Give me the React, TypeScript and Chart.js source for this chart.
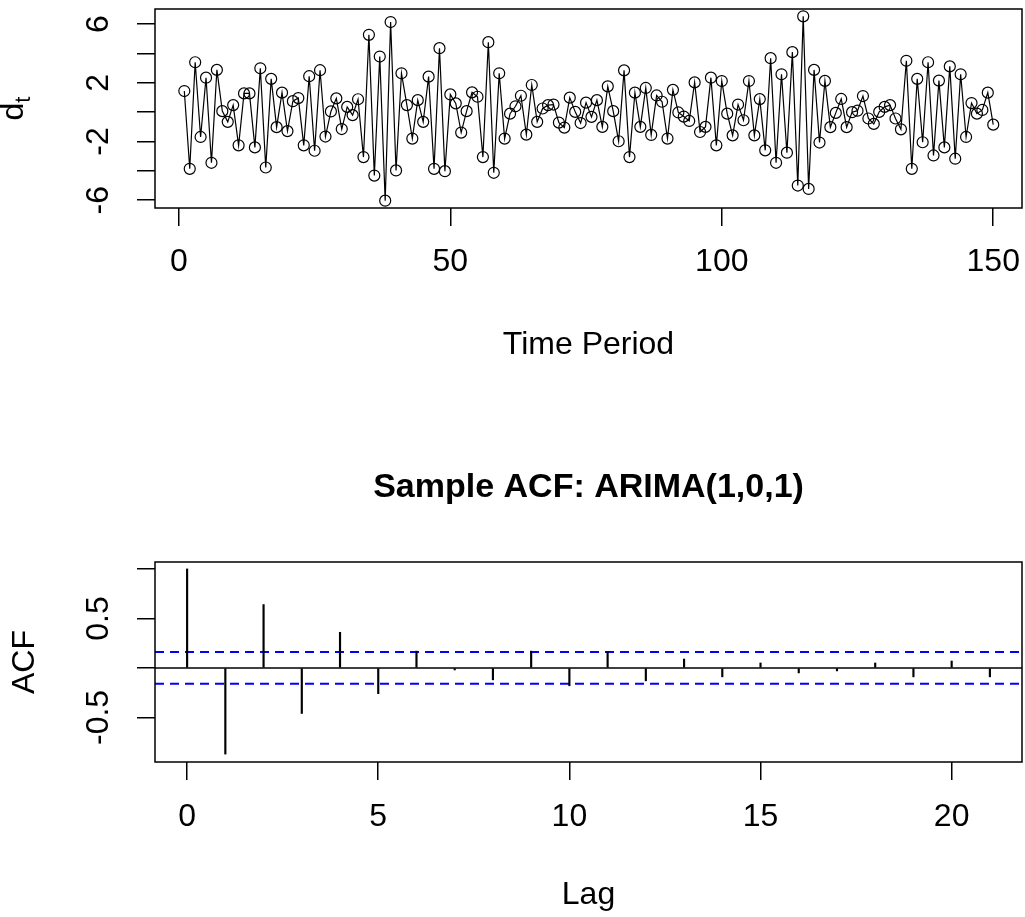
import React, { useEffect, useRef } from 'react';
import { Chart, registerables } from 'chart.js';

Chart.register(...registerables);
Chart.defaults.font.family = '"Liberation Sans", Arial, sans-serif';
Chart.defaults.color = '#000';

// ---------- Top panel: time series d_t ----------
const dValues: number[] = [
  1.44, -3.86, 3.4, -1.69, 2.35, -3.45, 2.88, 0.07, -0.66, 0.48,
  -2.26, 1.28, 1.28, -2.4, 2.99, -3.77, 2.27, -1.02, 1.33, -1.29,
  0.75, 0.96, -2.26, 2.45, -2.63, 2.86, -1.66, 0.05, 0.94, -1.15,
  0.36, -0.2, 0.88, -3.06, 5.27, -4.32, 3.79, -6.03, 6.14, -3.97,
  2.65, 0.48, -1.8, 0.82, -0.66, 2.42, -3.86, 4.36, -4.02, 1.21,
  0.6, -1.39, 0.07, 1.35, 1.05, -3.06, 4.77, -4.13, 2.65, -1.8,
  -0.1, 0.4, 1.12, -1.53, 1.85, -0.66, 0.25, 0.48, 0.52, -0.71,
  -1.05, 0.99, 0.02, -0.74, 0.65, -0.32, 0.82, -1.0, 1.76, 0.07,
  -1.98, 2.85, -3.06, 1.33, -1.0, 1.65, -1.55, 1.14, 0.71, -1.8,
  1.52, -0.02, -0.3, -0.6, 2.03, -1.35, -1.0, 2.35, -2.26, 2.12,
  -0.1, -1.58, 0.52, -0.55, 2.12, -1.58, 0.89, -2.6, 3.68, -3.45,
  2.58, -2.76, 4.09, -5.0, 6.53, -5.23, 2.88, -2.07, 2.13, -1.02,
  -0.05, 0.9, -1.02, 0.0, 0.1, 1.1, -0.43, -0.8, 0.02, 0.36,
  0.48, -0.43, -1.17, 3.5, -3.86, 2.27, -2.05, 3.4, -2.95, 2.15,
  -2.4, 3.12, -3.17, 2.58, -1.69, 0.62, -0.1, 0.15, 1.33, -0.85,
];
const periods: number[] = dValues.map((_, i) => i + 1);
const topXTicks: number[] = [0, 50, 100, 150];
const topYTicks: number[] = [-6, -4, -2, 0, 2, 4, 6];
const topYLabelValues: number[] = [-6, -2, 2, 6];
const topYLabels: string[] = ['-6', '-2', '2', '6'];

// ---------- Bottom panel: sample ACF ----------
const acfLags: number[] = [0, 1, 2, 3, 4, 5, 6, 7, 8, 9, 10, 11, 12, 13, 14, 15, 16, 17, 18, 19, 20, 21];
const acfValues: number[] = [
  1.0, -0.87, 0.64, -0.46, 0.36, -0.26, 0.17, -0.02, -0.12, 0.17, -0.18,
  0.165, -0.13, 0.09, -0.09, 0.05, -0.05, -0.03, 0.05, -0.09, 0.07, -0.09,
];
const ciBound = 0.16;
const acfXTicks: number[] = [0, 5, 10, 15, 20];
const acfYTicks: number[] = [-0.5, 0, 0.5, 1];
const acfYLabelValues: number[] = [-0.5, 0.5];
const acfYLabels: string[] = ['-0.5', '0.5'];

const FONT = '"Liberation Sans", Arial, sans-serif';
const TXT = 32;

const boxPlugin = {
  id: 'box',
  afterDraw(chart: any) {
    const { ctx, chartArea: a } = chart;
    ctx.save();
    ctx.strokeStyle = '#000';
    ctx.lineWidth = 1.5;
    ctx.strokeRect(a.left, a.top, a.right - a.left, a.bottom - a.top);
    ctx.restore();
  },
};

function rotatedYLabels(values: number[], labels: string[], x: number) {
  return {
    id: 'rotY',
    afterDraw(chart: any) {
      const { ctx } = chart;
      const ys = chart.scales.y;
      ctx.save();
      ctx.font = `${TXT}px ${FONT}`;
      ctx.fillStyle = '#000';
      ctx.textAlign = 'center';
      ctx.textBaseline = 'middle';
      values.forEach((v, i) => {
        const py = ys.getPixelForValue(v);
        ctx.save();
        ctx.translate(x, py);
        ctx.rotate(-Math.PI / 2);
        ctx.fillText(labels[i], 0, 0);
        ctx.restore();
      });
      ctx.restore();
    },
  };
}

const dtLabelPlugin = {
  id: 'dtLabel',
  afterDraw(chart: any) {
    const { ctx, chartArea: a } = chart;
    const cy = (a.top + a.bottom) / 2;
    ctx.save();
    ctx.translate(14, cy);
    ctx.rotate(-Math.PI / 2);
    ctx.fillStyle = '#000';
    ctx.textBaseline = 'middle';
    ctx.font = `${TXT}px ${FONT}`;
    const wd = ctx.measureText('d').width;
    ctx.font = `${Math.round(TXT * 0.7)}px ${FONT}`;
    const wt = ctx.measureText('t').width;
    const start = -(wd + wt) / 2;
    ctx.font = `${TXT}px ${FONT}`;
    ctx.textAlign = 'left';
    ctx.fillText('d', start, 0);
    ctx.font = `${Math.round(TXT * 0.7)}px ${FONT}`;
    ctx.fillText('t', start + wd, 10);
    ctx.restore();
  },
};

const acfLinesPlugin = {
  id: 'acfLines',
  beforeDatasetsDraw(chart: any) {
    const { ctx, chartArea: a } = chart;
    const ys = chart.scales.y;
    ctx.save();
    const y0 = ys.getPixelForValue(0);
    ctx.strokeStyle = '#000';
    ctx.lineWidth = 1.5;
    ctx.beginPath();
    ctx.moveTo(a.left, y0);
    ctx.lineTo(a.right, y0);
    ctx.stroke();
    ctx.strokeStyle = '#0000FF';
    ctx.lineWidth = 2;
    ctx.setLineDash([9, 6]);
    [ciBound, -ciBound].forEach((v) => {
      const py = ys.getPixelForValue(v);
      ctx.beginPath();
      ctx.moveTo(a.left, py);
      ctx.lineTo(a.right, py);
      ctx.stroke();
    });
    ctx.restore();
  },
};

const gridCfg = {
  display: true,
  drawOnChartArea: false,
  drawTicks: true,
  offset: false,
  tickLength: 18,
  color: '#000',
  tickColor: '#000',
  lineWidth: 1.5,
};

const zeroPad = (s: any) => {
  s.paddingLeft = 0;
  s.paddingRight = 0;
  s.paddingTop = 0;
  s.paddingBottom = 0;
};

export default function App() {
  const topRef = useRef<HTMLCanvasElement | null>(null);
  const botRef = useRef<HTMLCanvasElement | null>(null);

  useEffect(() => {
    const top = new Chart(topRef.current as HTMLCanvasElement, {
      type: 'line',
      data: {
        datasets: [
          {
            data: periods.map((t, i) => ({ x: t, y: dValues[i] })),
            borderColor: '#000',
            borderWidth: 1.2,
            pointRadius: 5.5,
            pointBorderWidth: 1.2,
            pointBorderColor: '#000',
            pointBackgroundColor: 'rgba(0,0,0,0)',
            tension: 0,
            fill: false,
            clip: false,
          },
        ],
      },
      options: {
        responsive: false,
        animation: false,
        devicePixelRatio: 1,
        layout: { autoPadding: false, padding: { top: 9, right: 3, left: 0, bottom: 0 } },
        plugins: { legend: { display: false }, tooltip: { enabled: false } },
        scales: {
          x: {
            type: 'linear',
            min: -4.4,
            max: 155.3,
            afterBuildTicks: (s: any) => {
              s.ticks = topXTicks.map((v) => ({ value: v }));
            },
            afterFit: (s: any) => {
              s.height = 212;
              zeroPad(s);
            },
            grid: gridCfg,
            border: { display: false },
            ticks: { padding: 17, color: '#000', font: { size: TXT }, maxRotation: 0, autoSkip: false },
            title: { display: true, text: 'Time Period', color: '#000', font: { size: TXT }, padding: { top: 0, bottom: 56 } },
          },
          y: {
            type: 'linear',
            min: -6.53,
            max: 7.03,
            afterBuildTicks: (s: any) => {
              s.ticks = topYTicks.map((v) => ({ value: v }));
            },
            afterFit: (s: any) => {
              s.width = 155;
              zeroPad(s);
            },
            grid: gridCfg,
            border: { display: false },
            ticks: { display: false },
          },
        },
      } as any,
      plugins: [boxPlugin, rotatedYLabels(topYLabelValues, topYLabels, 99), dtLabelPlugin],
    });

    const bot = new Chart(botRef.current as HTMLCanvasElement, {
      type: 'bar',
      data: {
        datasets: [
          {
            data: acfLags.map((l, i) => ({ x: l, y: acfValues[i] })),
            backgroundColor: '#000',
            borderWidth: 0,
            barThickness: 1.5,
          },
        ],
      },
      options: {
        responsive: false,
        animation: false,
        devicePixelRatio: 1,
        layout: { autoPadding: false, padding: { top: 0, right: 3, left: 0, bottom: 0 } },
        plugins: {
          legend: { display: false },
          tooltip: { enabled: false },
          title: {
            display: true,
            fullSize: false,
            text: 'Sample ACF: ARIMA(1,0,1)',
            color: '#000',
            font: { size: 34, weight: 'bold' },
            padding: { top: 47.6, bottom: 53.6 },
          },
        },
        scales: {
          x: {
            type: 'linear',
            offset: false,
            min: -0.84,
            max: 21.84,
            afterBuildTicks: (s: any) => {
              s.ticks = acfXTicks.map((v) => ({ value: v }));
            },
            afterFit: (s: any) => {
              s.height = 155;
              zeroPad(s);
            },
            grid: gridCfg,
            border: { display: false },
            ticks: { padding: 18, color: '#000', font: { size: TXT }, maxRotation: 0, autoSkip: false },
            title: { display: true, text: 'Lag', color: '#000', font: { size: TXT }, padding: { top: 0, bottom: 3 } },
          },
          y: {
            type: 'linear',
            min: -0.95,
            max: 1.07,
            afterBuildTicks: (s: any) => {
              s.ticks = acfYTicks.map((v) => ({ value: v }));
            },
            afterFit: (s: any) => {
              s.width = 155;
              zeroPad(s);
            },
            grid: gridCfg,
            border: { display: false },
            ticks: { display: false },
            title: { display: true, text: 'ACF', color: '#000', font: { size: TXT }, padding: { top: 6, bottom: 0 } },
          },
        },
      } as any,
      plugins: [acfLinesPlugin, boxPlugin, rotatedYLabels(acfYLabelValues, acfYLabels, 99)],
    });

    return () => {
      top.destroy();
      bot.destroy();
    };
  }, []);

  return (
    <div style={{ position: 'absolute', left: 0, top: 0, width: 1025, height: 917, background: '#fff' }}>
      <canvas ref={topRef} width={1025} height={420} style={{ position: 'absolute', left: 0, top: 0, width: 1025, height: 420 }} />
      <canvas ref={botRef} width={1025} height={497} style={{ position: 'absolute', left: 0, top: 420, width: 1025, height: 497 }} />
    </div>
  );
}
